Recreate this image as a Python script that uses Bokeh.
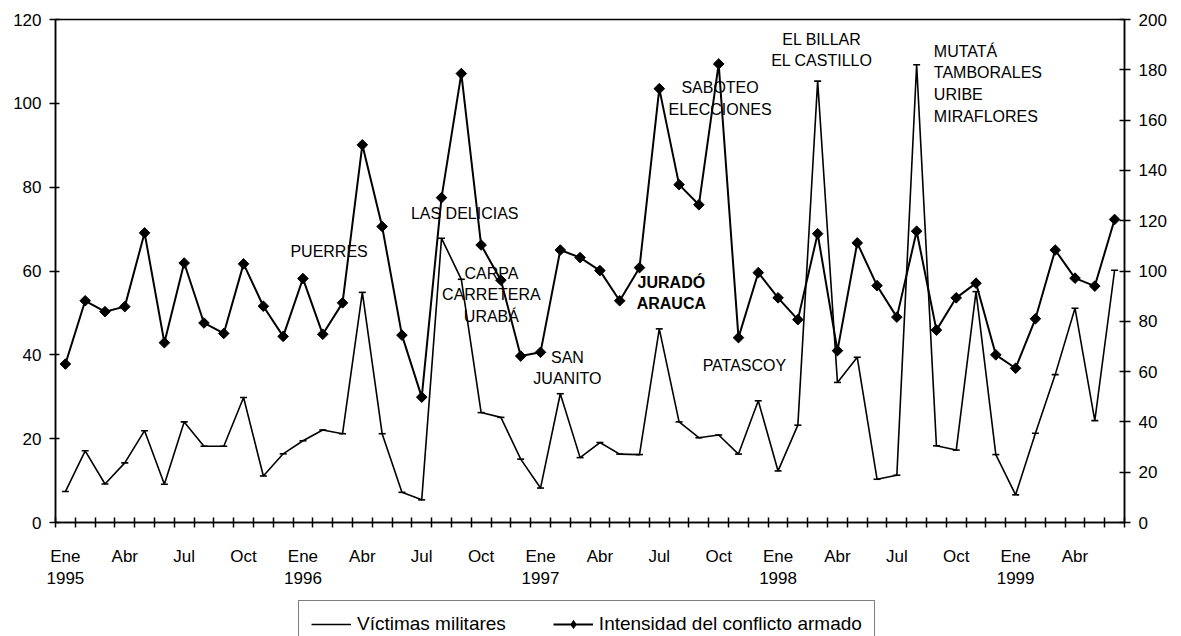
import numpy as np
from bokeh.plotting import figure
from bokeh.layouts import column
from bokeh.models import Range1d, LinearAxis, FixedTicker, Label, Legend, LegendItem, ColumnDataSource
from bokeh.embed import file_html
from bokeh.resources import INLINE

# ---------------- data ----------------
month_names = ["Ene", "Abr", "Jul", "Oct"]          # labelled every 3 months
years = ["1995", "1996", "1997", "1998", "1999"]

# Intensidad del conflicto armado (left axis, 0-120), Ene 1995 .. Jun 1999
intensidad = [37.8, 52.9, 50.3, 51.5, 69.1, 42.9, 61.9, 47.6, 45.1, 61.7, 51.6, 44.4,
              58.2, 44.9, 52.4, 90.1, 70.6, 44.7, 29.9, 77.5, 107.1, 66.2, 57.8, 39.7,
              40.6, 65.0, 63.2, 60.1, 52.9, 60.8, 103.5, 80.6, 75.8, 109.4, 44.1, 59.6,
              53.6, 48.4, 68.9, 41.0, 66.7, 56.5, 49.0, 69.5, 45.9, 53.6, 57.1, 40.0,
              36.8, 48.6, 65.0, 58.3, 56.4, 72.3]

# Victimas militares (right axis, 0-200)
victimas = [12.3, 28.5, 15.3, 23.7, 36.5, 15.2, 40.0, 30.3, 30.3, 49.7, 18.5, 27.3,
            32.5, 36.8, 35.3, 91.5, 35.3, 12.0, 9.0, 113.0, 96.7, 43.7, 41.8, 25.2,
            13.7, 51.2, 25.8, 31.8, 27.2, 27.0, 77.0, 40.0, 33.7, 34.8, 27.2, 48.4,
            20.5, 38.7, 175.5, 55.7, 65.7, 17.2, 18.8, 182.0, 30.5, 28.8, 91.8, 27.0,
            11.0, 35.5, 58.8, 85.2, 40.5, 100.3]

event_texts = ["PUERRES", "LAS DELICIAS", "CARPA\nCARRETERA\nURABÁ", "SAN\nJUANITO",
               "JURADÓ\nARAUCA", "PATASCOY", "SABOTEO\nELECCIONES",
               "EL BILLAR\nEL CASTILLO", "MUTATÁ\nTAMBORALES\nURIBE\nMIRAFLORES"]

series_names = ["Víctimas militares", "Intensidad del conflicto armado"]

# ---------------- figure ----------------
FONT = "Liberation Sans"
W = 1178
n = len(intensidad)
x = list(range(n))

src = ColumnDataSource(dict(x=x, intensidad=intensidad, victimas=victimas))

p = figure(width=W, height=600, x_range=Range1d(-0.5, n - 0.5), y_range=Range1d(0, 120),
           output_backend="svg", toolbar_location=None,
           min_border_left=55, min_border_right=54, min_border_top=19, min_border_bottom=78)
p.extra_y_ranges = {"right": Range1d(0, 200)}
p.xgrid.visible = False
p.ygrid.visible = False
p.outline_line_color = "black"
p.outline_line_width = 1.5
p.background_fill_color = "white"
p.border_fill_color = "white"

# x axis: boundary tick marks (minor) and labels every 3 months
label_pos = list(range(0, n, 3))
overrides = {}
for k in label_pos:
    m = month_names[(k // 3) % 4]
    if k % 12 == 0:
        overrides[k] = m + "\n" + years[k // 12]
    else:
        overrides[k] = m
xax = p.xaxis[0]
xax.ticker = FixedTicker(ticks=label_pos, minor_ticks=[i - 0.5 for i in range(n + 1)])
xax.major_label_overrides = overrides
xax.major_tick_in = 0
xax.major_tick_out = 0
xax.minor_tick_in = 5
xax.minor_tick_out = 5
xax.minor_tick_line_width = 1.5
xax.axis_line_width = 1.5
xax.major_label_standoff = 19
xax.major_label_text_font = FONT
xax.major_label_text_font_size = "17px"
xax.major_label_text_line_height = 1.18
xax.major_label_text_color = "black"

yax = p.yaxis[0]
yax.ticker = FixedTicker(ticks=list(range(0, 121, 20)))
yax.major_tick_in = 4
yax.major_tick_out = 6
yax.minor_tick_line_color = None
yax.axis_line_width = 1.5
yax.major_tick_line_width = 1.5
yax.major_label_standoff = 8
yax.major_label_text_font = FONT
yax.major_label_text_font_size = "17px"
yax.major_label_text_color = "black"

rax = LinearAxis(y_range_name="right", ticker=FixedTicker(ticks=list(range(0, 201, 20))))
rax.major_tick_in = 5
rax.major_tick_out = 6
rax.minor_tick_line_color = None
rax.axis_line_width = 1.5
rax.major_tick_line_width = 1.5
rax.major_label_standoff = 8
rax.major_label_text_font = FONT
rax.major_label_text_font_size = "17px"
rax.major_label_text_color = "black"
p.add_layout(rax, "right")

# series
VIC_STYLE = dict(line_color="black", line_width=1.6)
INT_STYLE = dict(line_color="black", line_width=2)
MK_STYLE = dict(marker="square", angle=np.pi / 4, size=7.5, fill_color="black", line_color="black")

p.line("x", "victimas", source=src, y_range_name="right", **VIC_STYLE)
p.scatter("x", "victimas", source=src, y_range_name="right", marker="dash", size=7,
          line_color="black", line_width=1.6)
p.line("x", "intensidad", source=src, **INT_STYLE)
p.scatter("x", "intensidad", source=src, **MK_STYLE)

# event annotations (data-anchored)
ann = [
    (13.32, 64.7, "center", False),
    (20.17, 73.6, "center", False),
    (21.52, 54.3, "center", False),
    (25.36, 36.9, "center", False),
    (30.61, 54.8, "center", True),
    (34.30, 37.45, "center", False),
    (33.07, 101.1, "center", False),
    (38.21, 112.7, "center", False),
    (43.87, 104.7, "left", False),
]
for (ax_, ay_, al, bold), txt in zip(ann, event_texts):
    p.add_layout(Label(x=ax_, y=ay_, text=txt, text_align=al, text_baseline="middle",
                       text_font=FONT, text_font_size="16px", text_line_height=1.27,
                       text_color="black", text_font_style="bold" if bold else "normal"))

# ---------------- legend strip (same data, view range away from it) ----------------
lg = figure(width=W, height=36, x_range=Range1d(1000, 1001), y_range=Range1d(1000, 1001),
            output_backend="svg", toolbar_location=None,
            x_axis_location=None, y_axis_location=None,
            min_border=0, min_border_left=0, min_border_right=0,
            min_border_top=0, min_border_bottom=0)
lg.xgrid.visible = False
lg.ygrid.visible = False
lg.outline_line_color = None
lg.border_fill_color = "white"
l1 = lg.line("x", "victimas", source=src, **VIC_STYLE)
l2 = lg.line("x", "intensidad", source=src, **INT_STYLE)
l3 = lg.scatter("x", "intensidad", source=src, marker="diamond", size=13,
                fill_color="black", line_color="black")

legend = Legend(items=[LegendItem(label=series_names[0], renderers=[l1]),
                       LegendItem(label=series_names[1], renderers=[l2, l3])],
                orientation="horizontal", location=(243, -12),
                label_text_font=FONT, label_text_font_size="19px", label_text_color="black",
                glyph_width=40, glyph_height=20, label_standoff=6, spacing=47, padding=12,
                margin=0,
                border_line_color="black", border_line_width=1.5,
                background_fill_color="white", background_fill_alpha=1.0)
lg.add_layout(legend)

open("out.html", "w").write(file_html(column(p, lg), INLINE))
